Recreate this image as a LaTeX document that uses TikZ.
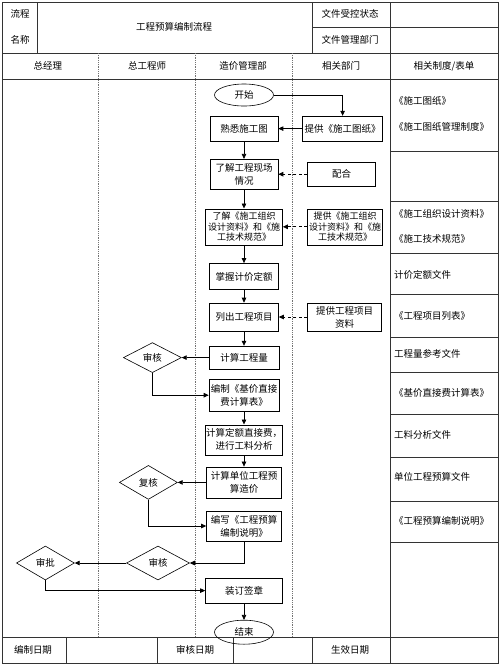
\documentclass[tikz,border=0pt]{standalone}
\usepackage{fontspec}
\setmainfont{Noto Sans CJK SC}
\usetikzlibrary{positioning,shapes.geometric,arrows.meta}
\tikzset{procbox/.style={rectangle,draw,line width=0.6pt,inner sep=1pt,minimum width=68pt,minimum height=25pt,align=center,font=\fontsize{9.5pt}{13pt}\selectfont},
	 tallbox/.style={procbox,font=\fontsize{9pt}{10.5pt}\selectfont,minimum width=77pt,minimum height=36pt},
	 termnode/.style={ellipse,draw,line width=0.6pt,inner sep=0pt,minimum width=59pt,minimum height=22pt,font=\fontsize{9.5pt}{11pt}\selectfont},
	 decision/.style={diamond,draw,line width=0.6pt,inner sep=0pt,minimum width=58pt,minimum height=34pt,font=\fontsize{9.5pt}{11pt}\selectfont},
	 cell/.style={inner sep=1pt,font=\fontsize{9.5pt}{11pt}\selectfont},
	 doccell/.style={cell,anchor=west},
	 arr/.style={-{Triangle[length=5pt,width=4.5pt]},line width=0.7pt},
	 dasharr/.style={arr,dash pattern=on 3pt off 2.5pt},
	 gridline/.style={line width=0.6pt,black!80},
	 lanesep/.style={densely dotted,line width=0.8pt,black!55}
	 }

\begin{document}
\begin{tikzpicture}[x=1pt,y=-1pt] % budget workflow swimlanes
	\useasboundingbox (0,0) rectangle (500,665);
	% table frame
	\draw[gridline,line width=1pt] (2,2) rectangle (498,663);
	\draw[gridline] (2,53) -- (498,53); \draw[gridline] (2,79) -- (498,79);
	\draw[gridline] (2,637) -- (498,637); \draw[gridline] (312,27) -- (498,27);
	\draw[gridline] (37,2) -- (37,53); \draw[gridline] (312,2) -- (312,53);
	\draw[gridline] (390,2) -- (390,637);
	\foreach \x in {98,195,292} \draw[lanesep] (\x,53) -- (\x,637);
	\foreach \y in {151,201,253,294,337,372,414,457,501,542} \draw[gridline] (390,\y) -- (498,\y);
	\foreach \x in {66,157,233,312,390} \draw[gridline] (\x,637) -- (\x,663);

	\node[cell] (hd1) at (20,14) {流程};
	\node[cell] (hd2) at (20,40) {名称};
	\node[cell] (title) at (174,27) {工程预算编制流程};
	\node[cell] (ctrl) at (350,14) {文件受控状态};
	\node[cell] (dept) at (350,40) {文件管理部门};
	\node[cell] (ln1) at (48,66) {总经理};
	\node[cell] (ln2) at (147,66) {总工程师};
	\node[cell] (ln3) at (243,66) {造价管理部};
	\node[cell] (ln4) at (341,66) {相关部门};
	\node[cell] (ln5) at (444,66) {相关制度/表单};
	\node[cell] (ft1) at (33,650) {编制日期};
	\node[cell] (ft2) at (195,650) {审核日期};
	\node[cell] (ft3) at (350,650) {生效日期};

	% documents column
	\node[doccell] (doc1) at (393,101) {《施工图纸》};
	\node[doccell] (doc2) at (393,127) {《施工图纸管理制度》};
	\node[doccell] (doc3) at (393,214) {《施工组织设计资料》};
	\node[doccell] (doc4) at (393,239) {《施工技术规范》};
	\node[doccell] (doc5) at (393,275) {计价定额文件};
	\node[doccell] (doc6) at (393,316) {《工程项目列表》};
	\node[doccell] (doc7) at (393,354) {工程量参考文件};
	\node[doccell] (doc8) at (393,393) {《基价直接费计算表》};
	\node[doccell] (doc9) at (393,435) {工料分析文件};
	\node[doccell] (doc10) at (393,477) {单位工程预算文件};
	\node[doccell] (doc11) at (393,521) {《工程预算编制说明》};

	% main flow
	\node[termnode] (start) at (244,95) {开始};
	\node[procbox] (s1) [below=9.5pt of start] {熟悉施工图};
	\node[procbox,minimum height=30pt] (s2) [below=17.5pt of s1] {了解工程现场\\情况};
	\node[tallbox] (s3) [below=19pt of s2] {了解《施工组织\\设计资料》和《施\\工技术规范》};
	\node[procbox,minimum width=69pt,minimum height=26pt] (s4) [below=18pt of s3] {掌握计价定额};
	\node[procbox,minimum width=69pt,minimum height=28pt] (s5) [below=13pt of s4] {列出工程项目};
	\node[procbox,minimum width=70pt,minimum height=23pt] (s6) [below=14.5pt of s5] {计算工程量};
	\node[procbox,minimum width=70pt,minimum height=32pt] (s7) [below=9.5pt of s6] {编制《基价直接\\费计算表》};
	\node[procbox,minimum width=76pt,minimum height=30pt,inner sep=0.5pt] (s8) [below=13pt of s7] {计算定额直接费，\\进行工料分析};
	\node[procbox,minimum width=75pt,minimum height=31pt] (s9) [below=11.5pt of s8] {计算单位工程预\\算造价};
	\node[procbox,minimum width=75pt,minimum height=30pt] (s10) [below=12.5pt of s9] {编写《工程预算\\编制说明》};
	\node[procbox,minimum width=77pt,minimum height=25pt] (s11) [below=36.5pt of s10] {装订签章};
	\node[termnode,minimum height=24pt] (end) [below=16.5pt of s11] {结束};
	\draw[line width=1.4pt] (s6.north east) -- (s6.south east) -- (s6.south west);

	% related departments
	\node[procbox,minimum width=80pt] (r1) [right=24pt of s1] {提供《施工图纸》};
	\node[procbox,minimum height=24pt] (r2) [right=29pt of s2] {配合};
	\node[tallbox,minimum width=75pt] (r3) [right=24.5pt of s3] {提供《施工组织\\设计资料》和《施\\工技术规范》};
	\node[procbox,minimum width=74pt,minimum height=28pt] (r4) [right=28.5pt of s5] {提供工程项目\\资料};

	% reviews
	\node[decision,minimum height=30pt] (d1) [left=27pt of s6] {审核};
	\node[decision] (d2) [left=28.5pt of s9] {复核};
	\node[decision,minimum width=63pt] (d3) at (158,563) {审核};
	\node[decision] (d4) [left=51.5pt of d3] {审批};

	\draw[arr] (start) -| (r1); \draw[arr] (r1) -- (s1);
	\foreach \a/\b in {s1/s2,s2/s3,s3/s4,s4/s5,s5/s6,s7/s8,s8/s9,s11/end} \draw[arr] (\a) -- (\b);
	\draw[dasharr] (r2) -- (s2); \draw[dasharr] (r3) -- (s3); \draw[dasharr] (r4) -- (s5);
	\draw[arr] (s6) -- (d1); \draw[arr] (d1) |- (s7);
	\draw[arr] (s9) -- (d2); \draw[arr] (d2) |- (s10);
	\draw[arr] (s10) |- (d3); \draw[arr] (d3) -- (d4); \draw[arr] (d4) |- (s11);
\end{tikzpicture}
\end{document}
